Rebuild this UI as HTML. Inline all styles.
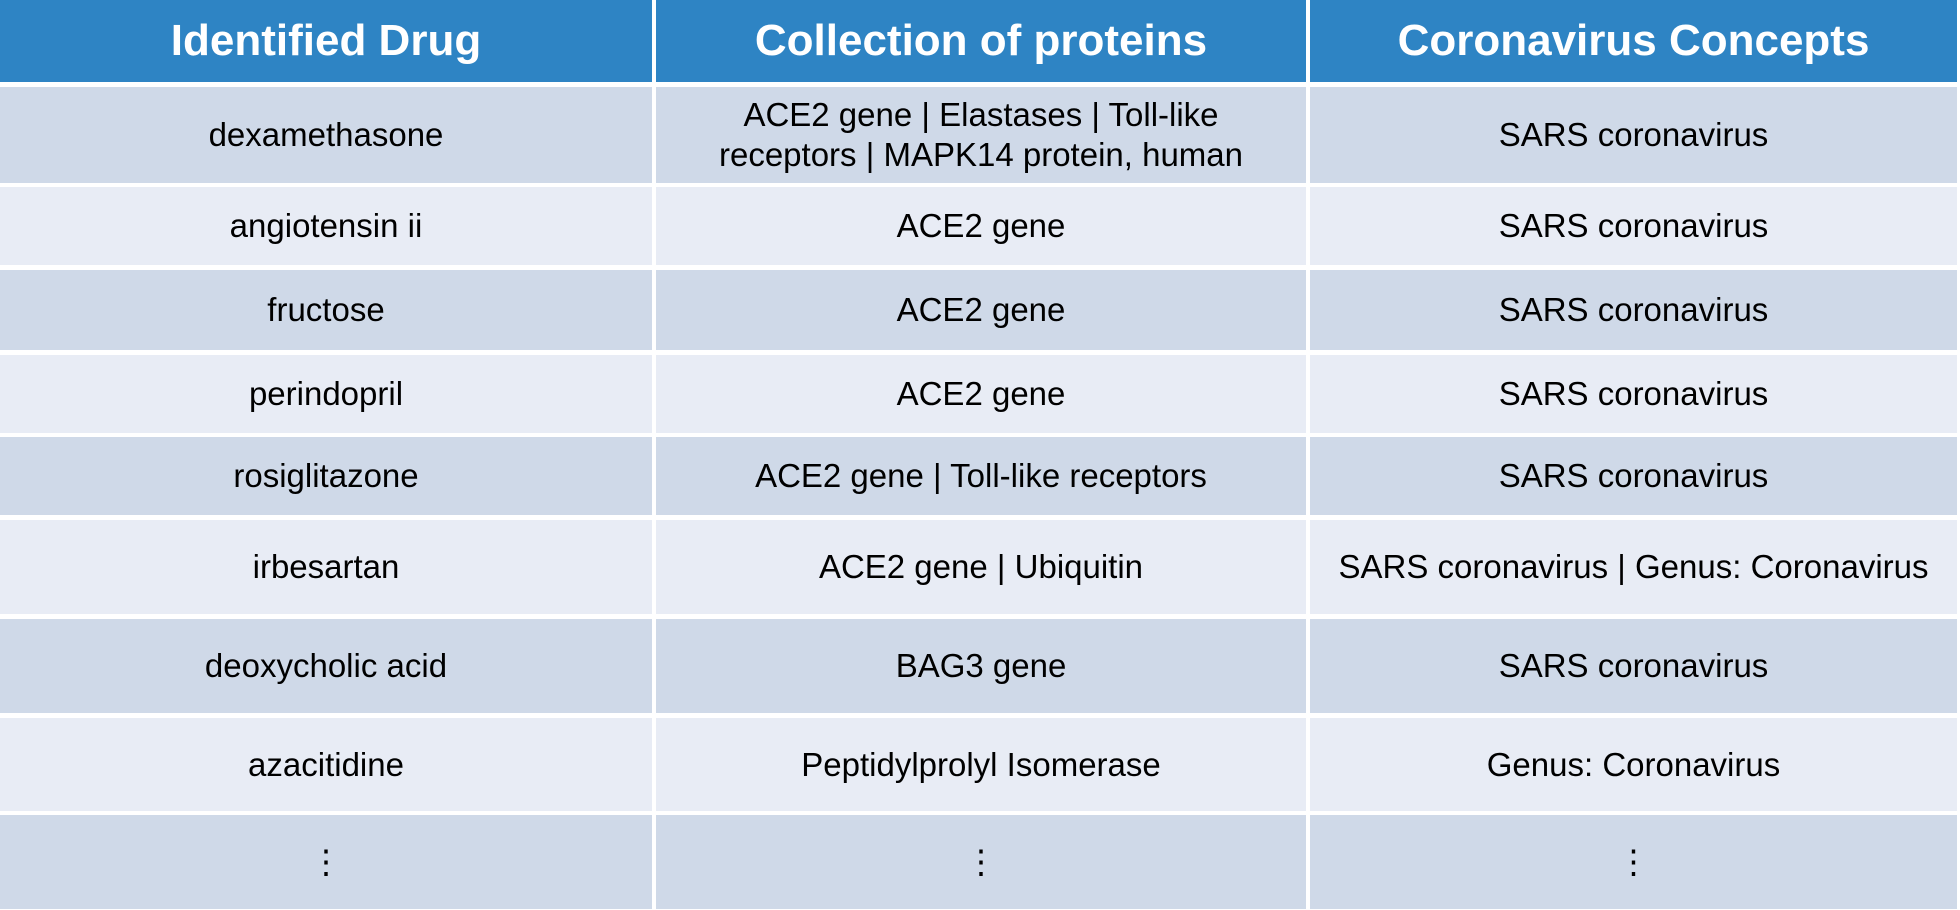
<!DOCTYPE html>
<html><head><meta charset="utf-8">
<style>
body{margin:0;width:1960px;height:910px;background:#fff;overflow:hidden;font-family:"Liberation Sans",sans-serif}
.c{position:absolute;display:flex;align-items:center;justify-content:center;text-align:center;color:#000;font-size:33px;line-height:40px;white-space:nowrap}
.h{background:#2E84C4;color:#fff;font-weight:bold;font-size:44px}
.o{background:#CFD9E8}.e{background:#E8ECF5}
</style></head><body>
<div id="t"></div>
<script>
const cols=[[0,652],[656,1306],[1310,1957]];
const rows=[[0,82],[87,183],[187,265],[270,350],[355,433],[437,515],[520,614],[619,713],[718,811],[815,909]];
const headers=["Identified Drug","Collection of proteins","Coronavirus Concepts"];
const data=[
["dexamethasone","ACE2 gene | Elastases | Toll-like<br>receptors | MAPK14 protein, human","SARS coronavirus"],
["angiotensin ii","ACE2 gene","SARS coronavirus"],
["fructose","ACE2 gene","SARS coronavirus"],
["perindopril","ACE2 gene","SARS coronavirus"],
["rosiglitazone","ACE2 gene | Toll-like receptors","SARS coronavirus"],
["irbesartan","ACE2 gene | Ubiquitin","SARS coronavirus | Genus: Coronavirus"],
["deoxycholic acid","BAG3 gene","SARS coronavirus"],
["azacitidine","Peptidylprolyl Isomerase","Genus: Coronavirus"],
["⋮","⋮","⋮"]];
const t=document.getElementById('t');
function cell(r,c,html,cls){
 const d=document.createElement('div');
 d.className='c '+cls;
 d.style.left=cols[c][0]+'px';d.style.width=(cols[c][1]-cols[c][0])+'px';
 d.style.top=rows[r][0]+'px';d.style.height=(rows[r][1]-rows[r][0])+'px';
 d.innerHTML=html;
 t.appendChild(d);
 return d;
}
headers.forEach((h,c)=>{
 const d=cell(0,c,h,'h');
 
 
});
data.forEach((row,i)=>{
 row.forEach((v,c)=>{
  const d=cell(i+1,c,v,i%2==0?'o':'e');
  
  
 });
});
</script>
</body></html>
